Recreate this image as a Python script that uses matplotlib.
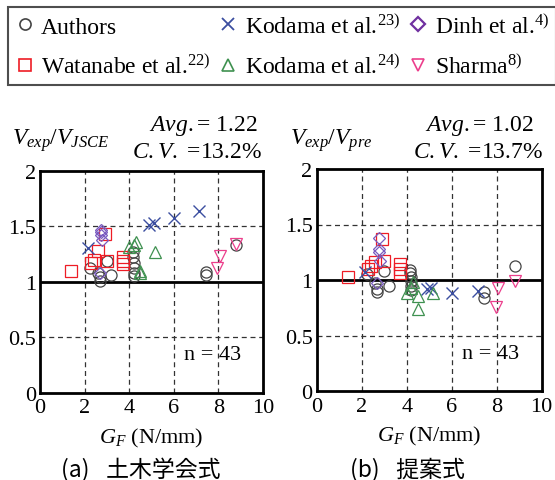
import matplotlib
matplotlib.use("Agg")
import matplotlib.pyplot as plt
from matplotlib.lines import Line2D

plt.rcParams['font.family'] = ['Liberation Serif', 'DejaVu Serif']
plt.rcParams['mathtext.fontset'] = 'custom'
plt.rcParams['mathtext.rm'] = 'Liberation Serif'
plt.rcParams['mathtext.it'] = 'Liberation Serif:italic'
plt.rcParams['mathtext.bf'] = 'Liberation Serif:bold'

# ---- data (GF, V ratio for (a) JSCE and (b) proposed) ----
authors_gf = [2.25, 2.6, 2.7, 2.7, 3.0, 3.2, 4.15, 4.15, 4.2, 4.2, 4.2, 4.2, 7.45, 7.45, 8.8]
authors_a = [1.12, 1.08, 1.04, 1.01, 1.19, 1.06, 1.27, 1.22, 1.17, 1.12, 1.08, 1.05, 1.09, 1.06, 1.33]
authors_b = [1.05, 0.97, 0.92, 0.89, 1.08, 0.95, 1.09, 1.06, 1.03, 0.99, 0.95, 0.91, 0.89, 0.84, 1.13]

watanabe_gf = [1.4, 2.3, 2.4, 2.6, 2.9, 3.0, 3.7, 3.7, 3.7]
watanabe_a = [1.10, 1.17, 1.20, 1.28, 1.43, 1.19, 1.22, 1.19, 1.16]
watanabe_b = [1.03, 1.10, 1.13, 1.16, 1.37, 1.17, 1.14, 1.10, 1.06]

kodama23_gf = [2.15, 4.9, 5.1, 6.0, 7.15]
kodama23_a = [1.30, 1.51, 1.53, 1.57, 1.64]
kodama23_b = [1.07, 0.92, 0.93, 0.88, 0.90]

kodama24_gf = [4.0, 4.2, 4.3, 4.5, 4.5, 5.15]
kodama24_a = [1.31, 1.33, 1.36, 1.10, 1.08, 1.27]
kodama24_b = [0.88, 0.93, 0.98, 0.86, 0.74, 0.88]

dinh_gf = [2.75, 2.75, 2.75, 2.8, 2.7]
dinh_a = [1.47, 1.45, 1.42, 1.38, 1.08]
dinh_b = [1.38, 1.28, 1.25, 1.17, 0.97]

sharma_gf = [8.05, 7.95, 8.8]
sharma_a = [1.23, 1.12, 1.34]
sharma_b = [0.93, 0.76, 0.99]

x_ticks = [0, 2, 4, 6, 8, 10]
y_ticks = [0, 0.5, 1, 1.5, 2]
y_ticklabels = ['0', '0.5', '1', '1.5', '2']

c_auth = '#444444'
c_wat = '#ee1c25'
c_k23 = '#3b4ea0'
c_dinh = '#7a5cc0'
c_dinh_leg = '#7030a0'
c_k24 = '#3f9150'
c_sha = '#ec3f8c'

series = [
    ('Authors', 'o', c_auth, authors_gf, authors_a, authors_b, 8),
    ('Watanabe et al.$^{22)}$', 's', c_wat, watanabe_gf, watanabe_a, watanabe_b, 8.5),
    ('Kodama et al.$^{23)}$', 'x', c_k23, kodama23_gf, kodama23_a, kodama23_b, 8.5),
    ('Kodama et al.$^{24)}$', '^', c_k24, kodama24_gf, kodama24_a, kodama24_b, 8.5),
    ('Dinh et al.$^{4)}$', 'D', c_dinh, dinh_gf, dinh_a, dinh_b, 6),
    ('Sharma$^{8)}$', 'v', c_sha, sharma_gf, sharma_a, sharma_b, 8.5),
]

fig = plt.figure(figsize=(5.55, 4.81), dpi=100)

axA = fig.add_axes([40/555, 1-393.7/481, 223/555, 222/481])
axB = fig.add_axes([316.7/555, 1-392/481, 225/555, 222/481])

for idx, ax in enumerate([axA, axB]):
    ax.set_xlim(0, 10)
    ax.set_ylim(0, 2)
    ax.set_xticks(x_ticks)
    ax.set_xticklabels([str(t) for t in x_ticks])
    ax.set_yticks(y_ticks)
    ax.set_yticklabels(y_ticklabels)
    ax.tick_params(length=0, labelsize=16, pad=4)
    ax.tick_params(axis='y', pad=3)
    for s in ax.spines.values():
        s.set_linewidth(2.0)
    for gx in [2, 4, 6, 8]:
        ax.axvline(gx, color='#333333', lw=0.9, ls=(0, (4, 3)), zorder=0)
    for gy in [0.5, 1.5]:
        ax.axhline(gy, color='#333333', lw=0.9, ls=(0, (4, 3)), zorder=0)
    ax.axhline(1.0, color='black', lw=2.0, zorder=1)
    for name, m, c, gf, va, vb, ms in series:
        vals = va if idx == 0 else vb
        if m == 'x':
            ax.plot(gf, vals, ls='none', marker=m, ms=ms, mew=1.0, color=c, zorder=3)
        else:
            ax.plot(gf, vals, ls='none', marker=m, ms=ms, mew=0.9, mfc='none', mec=c, zorder=3)
    ax.text(0.90, 0.17, 'n = 43', transform=ax.transAxes, ha='right', va='center', fontsize=16)
    ax.set_xlabel('$G_F$ (N/mm)', fontsize=16, labelpad=6)

# header texts
fig.text(12/555, 1-141/481, r'$V_{exp}/V_{JSCE}$', fontsize=17, ha='left', va='center')
fig.text(258/555, 1-126/481, r'$Avg.$= 1.22', fontsize=17, ha='right', va='center')
fig.text(262/555, 1-152/481, r'$C.V.$ =13.2%', fontsize=17, ha='right', va='center')
fig.text(290/555, 1-141/481, r'$V_{exp}/V_{pre}$', fontsize=17, ha='left', va='center')
fig.text(534/555, 1-126/481, r'$Avg.$= 1.02', fontsize=17, ha='right', va='center')
fig.text(543/555, 1-152/481, r'$C.V.$ =13.7%', fontsize=17, ha='right', va='center')

# captions
fig.text(141/555, 1-470/481, '(a)\u2002 土木学会式', fontsize=16.5, ha='center', va='center',
         family=['Noto Sans CJK JP', 'DejaVu Sans'])
fig.text(407/555, 1-470/481, '(b)\u2002 提案式', fontsize=16.5, ha='center', va='center',
         family=['Noto Sans CJK JP', 'DejaVu Sans'])

# legend
handles = []
labels = []
for name, m, c, gf, va, vb, ms in series:
    if m == 'x':
        h = Line2D([], [], ls='none', marker=m, ms=8, mew=1.3, color=c)
    elif m == 'D':
        h = Line2D([], [], ls='none', marker=m, ms=7, mew=1.6, mfc='none', mec=c_dinh_leg)
    else:
        h = Line2D([], [], ls='none', marker=m, ms=8, mew=1.2, mfc='none', mec=c)
    handles.append(h)
    labels.append(name)
leg = fig.legend(handles, labels, ncol=3, loc='upper left',
                 bbox_to_anchor=(8/555, 1-8/481), fontsize=17,
                 frameon=True, fancybox=False, edgecolor='#222222',
                 handlelength=0.8, handletextpad=0.3, columnspacing=0.35,
                 labelspacing=0.72, borderpad=0.3, borderaxespad=0)
leg.get_frame().set_linewidth(1.5)

fig.savefig('out.png', dpi=100)
